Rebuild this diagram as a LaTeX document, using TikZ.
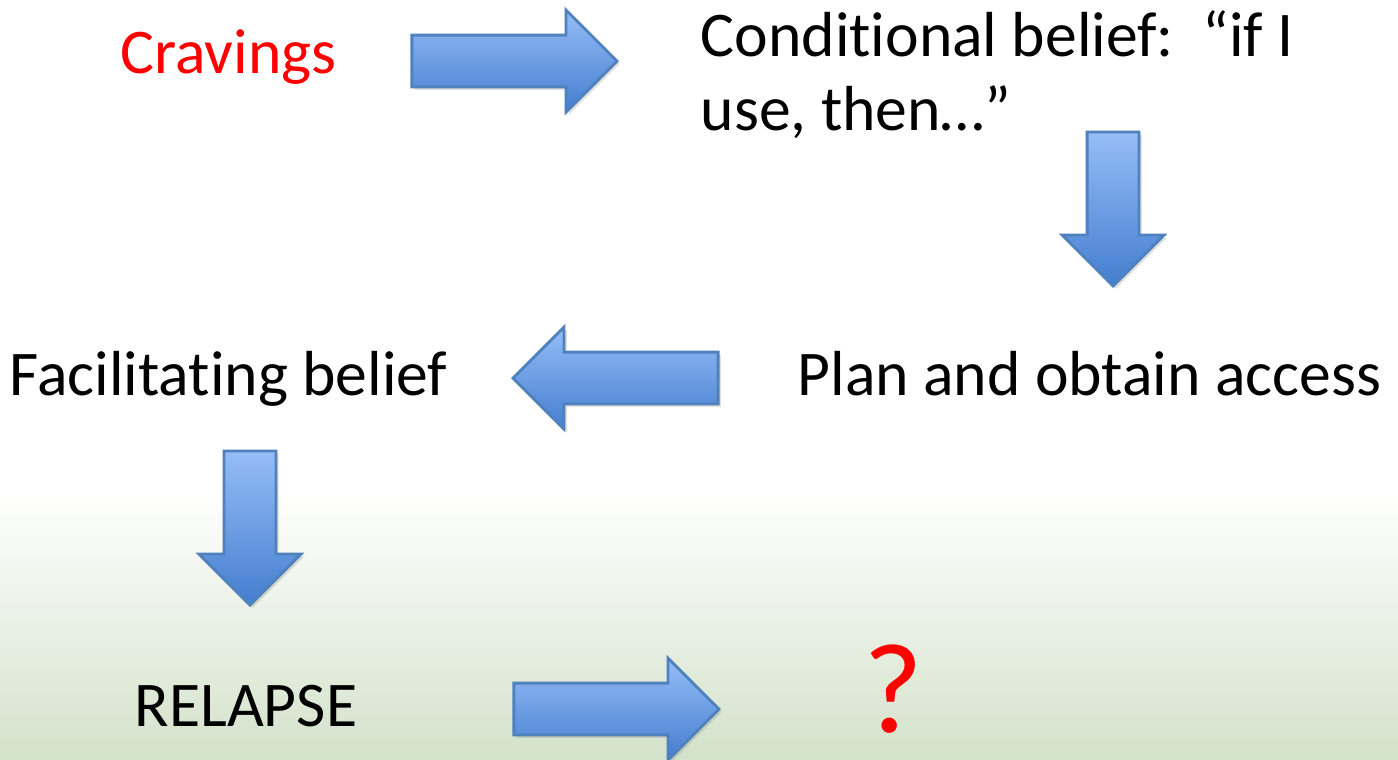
\documentclass[tikz,border=0pt]{standalone}
\usepackage{fontspec}
\setmainfont{Carlito}[Ligatures=NoCommon]
\usetikzlibrary{shapes.arrows,shadows}

\definecolor{arrowtop}{RGB}{150,189,247}
\definecolor{arrowbot}{RGB}{68,126,207}
\definecolor{arrowline}{RGB}{79,129,189}
\definecolor{bggreen}{RGB}{211,226,202}

\tikzset{
  blockarrow/.style={single arrow, draw=arrowline, line width=0.8pt,
    top color=arrowtop, bottom color=arrowbot,
    minimum height=2.05cm, minimum width=0pt,
    inner xsep=0pt, inner ysep=0.245cm, outer sep=0pt,
    single arrow head extend=0.25cm, single arrow tip angle=90,
    anchor=tip,
    drop shadow={opacity=0.25, shadow xshift=0.8pt, shadow yshift=-0.8pt}},
  pointright/.style={},
  pointdown/.style={rotate=-90, minimum height=1.54cm},
  pointleft/.style={rotate=180},
  txt/.style={anchor=base west, inner sep=0pt, font=\fontsize{18.1pt}{20.8pt}\selectfont}
}

\begin{document}
\begin{tikzpicture}[x=0.01cm, y=-0.01cm]
\useasboundingbox (0,0) rectangle (1398,759);
\fill[white] (0,0) rectangle (1398,491);
\shade[top color=white, bottom color=bggreen] (0,490) rectangle (1398,759);

\node[txt, red] (crav) at (120,73) {Cravings};
\node[txt, align=left] (cond) at (700,130) {Conditional belief:\ \ “if I\\use, then…”};
\node[txt] (plan) at (797,395) {Plan and obtain access};
\node[txt] (fac) at (9,395) {Facilitating belief};
\node[txt] (rel) at (134,726) {RELAPSE};
\node[txt, red, font=\fontsize{36.5pt}{40pt}\selectfont] (q) at (863,732) {?};

% arrows, placed by their tips
\foreach \n/\x/\y/\dir in
{1/617/61/pointright, 2/1113/286/pointdown, 3/513/378/pointleft,
 4/250/605/pointdown, 5/719/709/pointright}
\node[blockarrow, \dir] (a\n) at (\x,\y) {};
\end{tikzpicture}
\end{document}
